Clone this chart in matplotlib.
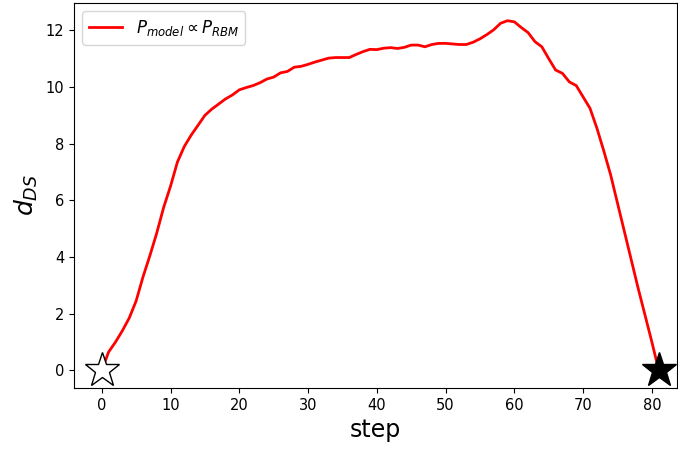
import matplotlib
matplotlib.use("Agg")
import matplotlib.pyplot as plt
import numpy as np

steps = np.arange(0, 82)
d_ds = [0.0, 0.65, 1.0, 1.4, 1.85, 2.45, 3.3, 4.05, 4.85, 5.75,
        6.5, 7.35, 7.9, 8.3, 8.65, 9.0, 9.22, 9.4, 9.58, 9.72,
        9.9, 9.98, 10.05, 10.15, 10.28, 10.35, 10.5, 10.55, 10.7, 10.73,
        10.8, 10.88, 10.95, 11.02, 11.04, 11.04, 11.04, 11.15, 11.25, 11.33,
        11.32, 11.37, 11.39, 11.36, 11.4, 11.48, 11.48, 11.42, 11.5, 11.54,
        11.54, 11.52, 11.5, 11.5, 11.58, 11.7, 11.85, 12.02, 12.25, 12.34,
        12.3, 12.1, 11.92, 11.6, 11.42, 11.0, 10.6, 10.48, 10.18, 10.05,
        9.65, 9.25, 8.55, 7.75, 6.9, 5.9, 4.9, 3.9, 2.9, 1.95,
        1.0, 0.0]
start = (0, 0.0)
end = (81, 0.0)

fig = plt.figure(figsize=(6.78, 4.49), dpi=100)
ax = fig.add_axes([0.109, 0.136, 0.889, 0.857])

ax.plot(steps, d_ds, color="red", lw=2, label=r"$P_{model} \propto P_{RBM}$")
ax.plot(*start, marker="*", ms=26, mfc="white", mec="black", mew=1, ls="none")
ax.plot(*end, marker="*", ms=26, mfc="black", mec="black", ls="none")

ax.set_xlim(-4.05, 83.6)
ax.set_ylim(-0.62, 12.96)
ax.set_xticks(range(0, 81, 10))
ax.set_yticks(range(0, 13, 2))
ax.tick_params(labelsize=10.5)
ax.set_xlabel("step", fontsize=17)
ax.set_ylabel(r"$d_{DS}$", fontsize=18)
ax.legend(loc="upper left", fontsize=12)

fig.savefig("out.png", dpi=100, facecolor="white")
